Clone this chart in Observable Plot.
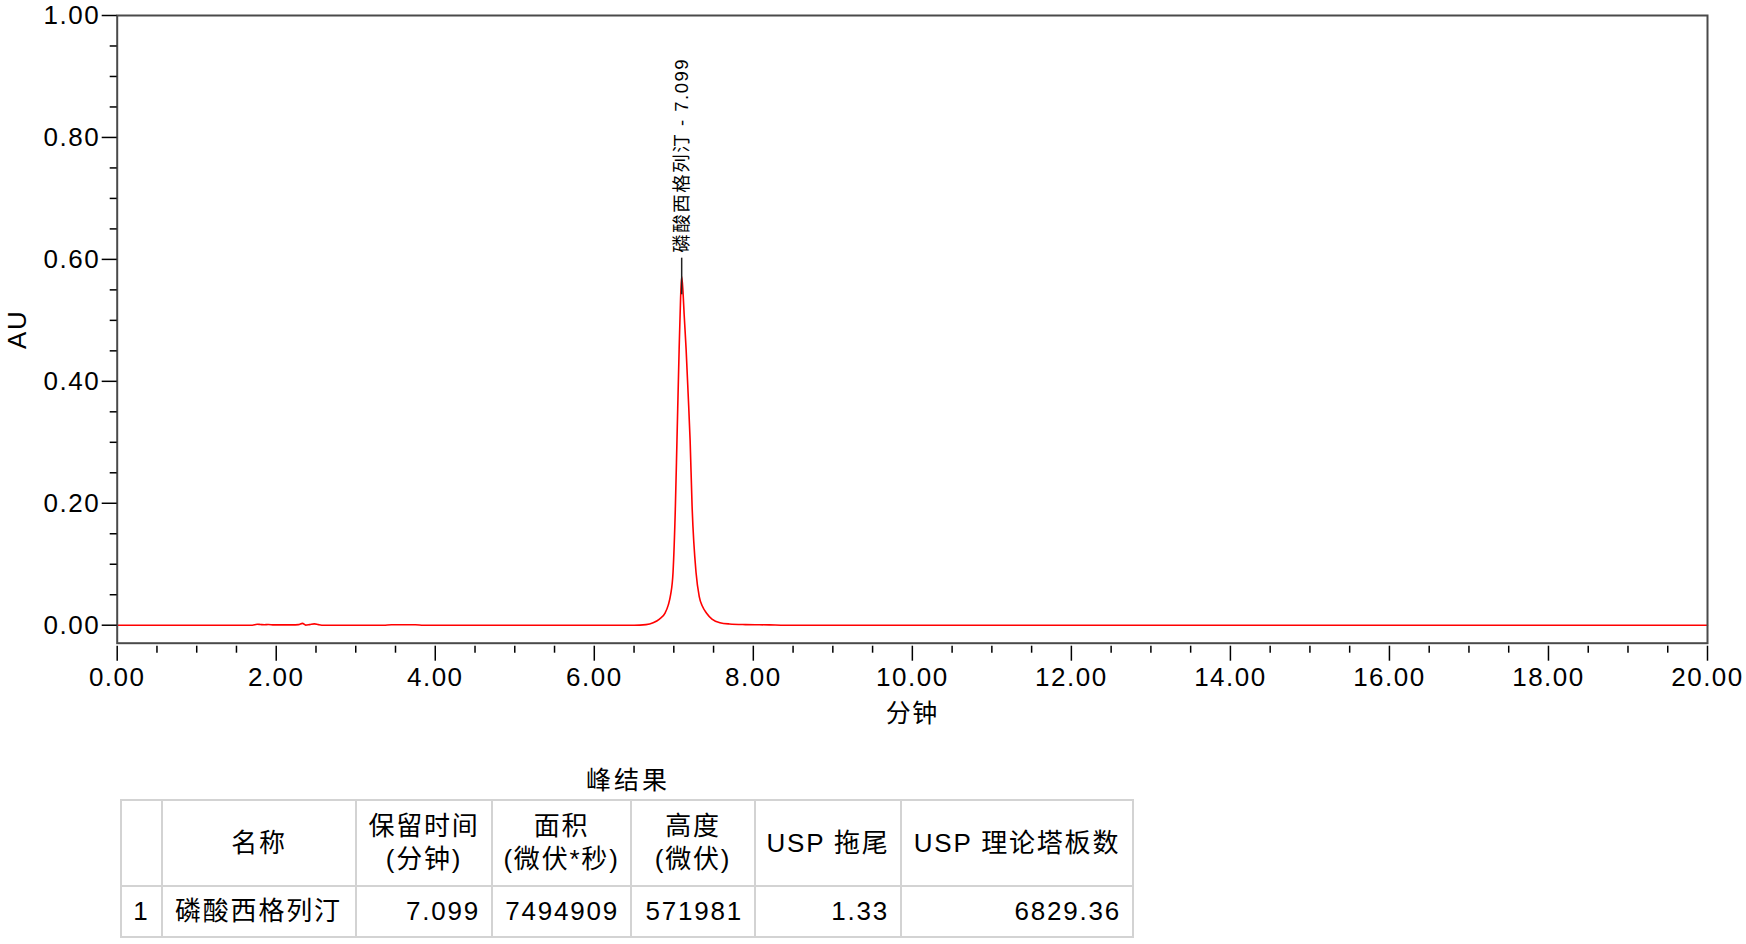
<!DOCTYPE html>
<html><head><meta charset="utf-8">
<script src="https://cdn.jsdelivr.net/npm/d3@7"></script>
<script src="https://cdn.jsdelivr.net/npm/@observablehq/plot@0.6"></script>
<style>
body{margin:0;background:#fff;font-family:"Liberation Sans",Arial,"Noto Sans CJK SC",sans-serif;color:#000;}
#chart{position:absolute;left:0;top:0;}
#chart svg text{letter-spacing:1.5px;}
#ttl{position:absolute;left:0;width:1256px;top:766px;text-align:center;font-size:25px;letter-spacing:3px;line-height:28px;}
table{position:absolute;left:120px;top:799px;border-collapse:collapse;table-layout:fixed;width:1012px;font-size:26px;letter-spacing:1.8px;}
td{border:2px solid #d3d3d3;padding:0;line-height:33px;}
tr.h td{height:84px;text-align:center;vertical-align:middle;}
tr.d td{height:49px;vertical-align:middle;}
td.num{text-align:right;padding-right:11px;}
td.nm{text-align:left;padding-left:12px;}
td.idx{text-align:center;}
</style></head>
<body>
<div id="chart"></div>
<div id="ttl"></div>
<table id="tbl"></table>
<script>
// chromatogram trace (minutes, AU)
const timeMin = [0, 1.70, 1.76, 1.80, 1.85, 1.90, 1.97, 2.05, 2.20, 2.28,
  2.33, 2.37, 2.42, 2.48, 2.53, 2.60, 3.35, 3.45, 3.75, 3.85,
  6.50, 6.65, 6.74, 6.82, 6.89, 6.93, 6.96, 6.99, 7.02, 7.04,
  7.067, 7.085, 7.099, 7.115, 7.13, 7.155, 7.18, 7.205, 7.23, 7.28,
  7.32, 7.36, 7.41, 7.48, 7.58, 7.70, 7.90, 8.20, 8.40, 20.00];
const absAU = [0, 0, 0.0015, 0.0012, 0.0008, 0.0012, 0.0005, 0.0006, 0.0006, 0.0010,
  0.0030, 0.0002, 0.0010, 0.0022, 0.0010, 0, 0, 0.0008, 0.0008, 0,
  0, 0.0010, 0.0040, 0.0100, 0.0200, 0.0330, 0.0500, 0.0860, 0.1950, 0.3040,
  0.4520, 0.5350, 0.5720, 0.5480, 0.5100, 0.4520, 0.3800, 0.3040, 0.1950, 0.0860,
  0.0470, 0.0310, 0.0200, 0.0100, 0.0040, 0.0020, 0.0010, 0.0005, 0, 0];

// peak results
const peakNames = ["磷酸西格列汀"];
const retTimes = [7.099];
const areas = [7494909];
const heightsUV = [571981];
const uspTailing = [1.33];
const uspPlates = [6829.36];

// ticks
const xMajorTicks = [0, 2, 4, 6, 8, 10, 12, 14, 16, 18, 20];
const xMinorTicks = [0.5, 1, 1.5, 2.5, 3, 3.5, 4.5, 5, 5.5, 6.5, 7, 7.5, 8.5, 9, 9.5,
  10.5, 11, 11.5, 12.5, 13, 13.5, 14.5, 15, 15.5, 16.5, 17, 17.5, 18.5, 19, 19.5];
const yMajorTicks = [0, 0.2, 0.4, 0.6, 0.8, 1.0];
const yMinorTicks = [0.05, 0.1, 0.15, 0.25, 0.3, 0.35, 0.45, 0.5, 0.55, 0.65, 0.7, 0.75, 0.85, 0.9, 0.95];

// texts
const xLabel = "分钟";
const yLabel = "AU";
const tableTitle = "峰结果";
const headerLine1 = ["", "名称", "保留时间", "面积", "高度", "USP 拖尾", "USP 理论塔板数"];
const headerLine2 = ["", "", "(分钟)", "(微伏*秒)", "(微伏)", "", ""];

const trace = timeMin.map((t, i) => ({t, v: absAU[i]}));
const peaks = peakNames.map((name, i) => ({name, rt: retTimes[i], h: heightsUV[i] / 1e6}));

const plot = Plot.plot({
  width: 1746, height: 730,
  marginLeft: 116.7, marginRight: 39, marginTop: 15, marginBottom: 87.3,
  style: {fontFamily: '"Liberation Sans", Arial, "Noto Sans CJK SC", sans-serif', fontSize: "26px", color: "#000", background: "#fff", overflow: "visible"},
  x: {domain: [0, 20], label: null},
  y: {domain: [-0.0295, 1.0], label: null},
  marks: [
    Plot.line(trace, {x: "t", y: "v", stroke: "#ff0000", strokeWidth: 1.6, curve: "monotone-x"}),
    Plot.ruleX(peaks, {x: "rt", y1: d => d.h - 0.03, y2: d => d.h + 0.03, stroke: "#222", strokeWidth: 1.5}),
    Plot.text(peaks, {x: "rt", y: d => d.h + 0.039, text: d => `${d.name} - ${d.rt.toFixed(3)}`, rotate: -90, textAnchor: "start", lineAnchor: "middle", fontSize: 18.5, fill: "#000"}),
    Plot.frame({stroke: "#4a4a4a", strokeWidth: 2}),
    Plot.axisX(xMajorTicks, {tickSize: 15, tickPadding: 6, dy: 3, tickFormat: d => d.toFixed(2), label: null, fontSize: 26, strokeWidth: 1.5}),
    Plot.axisX(xMinorTicks, {tickSize: 7, dy: 3, tickFormat: () => "", label: null, strokeWidth: 1.5}),
    Plot.axisY(yMajorTicks, {tickSize: 15, tickPadding: 2, tickFormat: d => d.toFixed(2), label: null, fontSize: 26, strokeWidth: 1.5}),
    Plot.axisY(yMinorTicks, {tickSize: 7, tickFormat: () => "", label: null, strokeWidth: 1.5}),
    Plot.text([yLabel], {frameAnchor: "left", dx: -99.7, rotate: -90, textAnchor: "middle", lineAnchor: "middle", fontSize: 26, fill: "#000"}),
    Plot.text([xLabel], {frameAnchor: "bottom", dy: 70.3, textAnchor: "middle", lineAnchor: "middle", fontSize: 25, fill: "#000"})
  ]
});
document.getElementById("chart").appendChild(plot);

document.getElementById("ttl").textContent = tableTitle;
const colW = [41, 194, 136, 139, 124, 146, 232];
const tbl = document.getElementById("tbl");
const cg = document.createElement("colgroup");
colW.forEach(w => { const c = document.createElement("col"); c.style.width = w + "px"; cg.appendChild(c); });
tbl.appendChild(cg);
const hr = document.createElement("tr"); hr.className = "h";
headerLine1.forEach((t, i) => {
  const td = document.createElement("td");
  td.innerHTML = headerLine2[i] ? `${t}<br>${headerLine2[i]}` : t;
  hr.appendChild(td);
});
tbl.appendChild(hr);
peakNames.forEach((name, i) => {
  const tr = document.createElement("tr"); tr.className = "d";
  const cells = [
    [String(i + 1), "idx"],
    [name, "nm"],
    [retTimes[i].toFixed(3), "num"],
    [String(areas[i]), "num"],
    [String(heightsUV[i]), "num"],
    [uspTailing[i].toFixed(2), "num"],
    [uspPlates[i].toFixed(2), "num"]
  ];
  cells.forEach(([t, c]) => { const td = document.createElement("td"); td.className = c; td.textContent = t; tr.appendChild(td); });
  tbl.appendChild(tr);
});
</script>
</body></html>
